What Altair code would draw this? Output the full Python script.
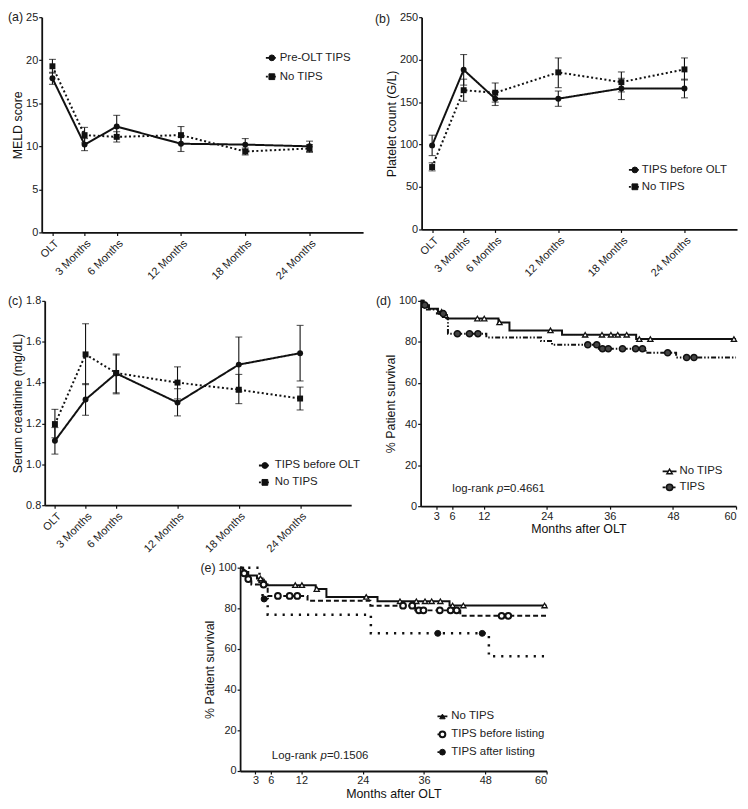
import altair as alt
import pandas as pd

FONT = "Liberation Sans"
INK = "#111111"
LAB = "#222222"

# ---------------- data ----------------
visit_months = [0, 3, 6, 12, 18, 24]
visit_labels = ["OLT", "3 Months", "6 Months", "12 Months", "18 Months", "24 Months"]

# (a) MELD score
meld_groups = ["Pre-OLT TIPS", "No TIPS"]
meld_tips = [17.9, 10.2, 12.3, 10.3, 10.2, 10.0]
meld_tips_lo = [17.2, 9.5, 11.0, 9.4, 9.6, 9.4]
meld_tips_hi = [18.6, 10.9, 13.6, 11.1, 10.9, 10.6]
meld_no = [19.3, 11.3, 11.1, 11.3, 9.4, 9.75]
meld_no_lo = [18.5, 10.4, 10.5, 10.3, 9.0, 9.3]
meld_no_hi = [20.1, 12.2, 11.7, 12.3, 9.8, 10.2]

# (b) platelet count
plt_groups = ["TIPS before OLT", "No TIPS"]
plt_tips = [99, 188, 154, 154, 166, 166]
plt_tips_lo = [87, 170, 146, 145, 153, 155]
plt_tips_hi = [111, 206, 162, 163, 178, 177]
plt_no = [73.5, 164, 161, 185, 173.5, 188.5]
plt_no_lo = [69, 151, 150, 167, 162, 176]
plt_no_hi = [78.5, 177, 172.5, 202, 185.5, 202]

# (c) serum creatinine
cre_groups = ["TIPS before OLT", "No TIPS"]
cre_tips = [1.115, 1.317, 1.445, 1.302, 1.488, 1.544]
cre_tips_lo = [1.05, 1.24, 1.345, 1.237, 1.355, 1.408]
cre_tips_hi = [1.18, 1.395, 1.535, 1.37, 1.623, 1.68]
cre_no = [1.197, 1.538, 1.447, 1.400, 1.365, 1.322]
cre_no_lo = [1.13, 1.39, 1.35, 1.32, 1.297, 1.266]
cre_no_hi = [1.269, 1.688, 1.54, 1.477, 1.44, 1.378]

# (d)/(e) Kaplan-Meier, No TIPS
km_no_t = [0, 0.6, 1.6, 3.3, 4.4, 5.0, 14.8, 16.9, 26.9, 41.0, 60]
km_no_s = [100, 97.9, 96.2, 94.7, 93.1, 91.4, 89.5, 85.6, 83.5, 81.4, 81.4]
km_no_cens_t = [0.9, 4.0, 4.7, 10.8, 12.1, 15.0, 24.7, 31.3, 34.5, 36.2, 37.5, 39.2, 41.6, 43.7, 59.6]
km_no_cens_s = [97.9, 94.7, 93.1, 91.4, 91.4, 89.5, 85.6, 83.5, 83.5, 83.5, 83.5, 83.5, 81.4, 81.4, 81.4]

# (d) TIPS
km_tips_t = [0, 0.4, 1.2, 3.1, 4.6, 5.2, 12.5, 22.9, 25.0, 33.9, 42.8, 48.6, 60]
km_tips_s = [100, 97.9, 95.8, 93.8, 91.7, 84.0, 82.2, 80.4, 78.6, 76.7, 74.7, 72.4, 72.4]
km_tips_cens_t = [0.8, 4.3, 7.0, 9.3, 10.9, 31.8, 33.5, 34.6, 35.7, 38.4, 40.9, 42.2, 47.0, 50.6, 52.0]
km_tips_cens_s = [97.9, 93.8, 84.0, 84.0, 84.0, 78.6, 78.6, 76.7, 76.7, 76.7, 76.7, 76.7, 74.7, 72.4, 72.4]

# (e) TIPS before listing
km_before_t = [0, 0.5, 1.3, 2.2, 5.4, 13.2, 25.5, 34.3, 43.1, 60]
km_before_s = [100, 97.2, 94.4, 91.7, 86.1, 83.7, 81.3, 79.0, 76.3, 76.3]
km_before_cens_t = [0.8, 1.6, 4.6, 7.4, 9.7, 11.2, 31.9, 33.7, 35.0, 35.9, 39.1, 41.2, 42.4, 51.2, 52.5]
km_before_cens_s = [97.2, 94.4, 91.7, 86.1, 86.1, 86.1, 81.3, 81.3, 79.0, 79.0, 79.0, 79.0, 79.0, 76.3, 76.3]

# (e) TIPS after listing
km_after_t = [0, 3.8, 4.4, 5.4, 25.6, 48.7, 60]
km_after_s = [100, 92.3, 84.6, 76.9, 67.7, 56.4, 56.4]
km_after_cens_t = [4.7, 38.7, 47.4]
km_after_cens_s = [84.6, 67.7, 67.7]

km_ticks = [3, 6, 12, 24, 36, 48, 60]
km_yticks = [0, 20, 40, 60, 80, 100]

one = pd.DataFrame({"k": [0]})

# ---------------- helpers ----------------
LABEL_EXPR = "''"
for m, lab in reversed(list(zip(visit_months, visit_labels))):
    LABEL_EXPR = f"datum.value == {m} ? '{lab}' : ({LABEL_EXPR})"


def visits_df(groups, means, los, his):
    rows = []
    for g, ms, ls, hs in zip(groups, means, los, his):
        for t, a, b, c in zip(visit_months, ms, ls, hs):
            rows.append({"month": t, "group": g, "mean": a, "lo": b, "hi": c})
    return pd.DataFrame(rows)


def text_at(x, y, s, size=11.5, style="normal", align="left"):
    return alt.Chart(one).mark_text(
        align=align, baseline="middle", font=FONT, fontSize=size, fontStyle=style,
        color=LAB, text=s
    ).encode(x=alt.value(x), y=alt.value(y))


def legend_item(mx, y, label, shape, dash, fill=INK, stroke=INK, sw=1.0,
                size=34, left=6, right=4, tx=None):
    line = alt.Chart(one).mark_rule(color=INK, strokeWidth=1.8, strokeDash=dash).encode(
        x=alt.value(mx - left), x2=alt.value(mx + right), y=alt.value(y))
    pt = alt.Chart(one).mark_point(shape=shape, filled=True, fill=fill, stroke=stroke,
                                   strokeWidth=sw, size=size, opacity=1).encode(
        x=alt.value(mx), y=alt.value(y))
    txt = text_at(tx if tx is not None else mx + 8, y, label)
    return [line, pt, txt]


def spacer(w, h):
    return alt.Chart(one).mark_point(opacity=0, size=1).encode(
        x=alt.value(0), y=alt.value(0)).properties(width=w, height=h)


def visit_panel(df, groups, ytitle, ydomain, yvalues, yfmt, w, h, tag, tagpos, legend):
    xenc = alt.X("month:Q", scale=alt.Scale(domain=[-1, 29], nice=False, zero=False),
                 axis=alt.Axis(values=visit_months, labelExpr=LABEL_EXPR, labelAngle=-45,
                               labelOverlap=False, title=None, labelPadding=2))
    yaxis = alt.Axis(values=yvalues, title=ytitle, format=yfmt)
    yscale = alt.Scale(domain=ydomain, nice=False, zero=False)
    dash = alt.StrokeDash("group:N", scale=alt.Scale(domain=groups, range=[[1, 0], [2, 2.5]]),
                          legend=None)
    shape = alt.Shape("group:N", scale=alt.Scale(domain=groups, range=["circle", "square"]),
                      legend=None)
    base = alt.Chart(df)
    lines = base.mark_line(color=INK, strokeWidth=2).encode(
        x=xenc, y=alt.Y("mean:Q", scale=yscale, axis=yaxis), strokeDash=dash)
    rules = base.mark_rule(color=INK, strokeWidth=1.1).encode(
        x=xenc, y=alt.Y("lo:Q", scale=yscale, axis=yaxis), y2="hi:Q")
    cap_lo = base.mark_tick(color=INK, orient="horizontal", size=7, thickness=1.1).encode(
        x=xenc, y=alt.Y("lo:Q", scale=yscale, axis=yaxis))
    cap_hi = base.mark_tick(color=INK, orient="horizontal", size=7, thickness=1.1).encode(
        x=xenc, y=alt.Y("hi:Q", scale=yscale, axis=yaxis))
    pts = base.mark_point(filled=True, color=INK, opacity=1, size=36).encode(
        x=xenc, y=alt.Y("mean:Q", scale=yscale, axis=yaxis), shape=shape)
    layers = [lines, rules, cap_lo, cap_hi, pts]
    layers.append(text_at(tagpos[0], tagpos[1], tag, size=12.5))
    (mx, tx, y1, y2) = legend
    layers += legend_item(mx, y1, groups[0], "circle", [1, 0], tx=tx)
    layers += legend_item(mx, y2, groups[1], "square", [2, 2], tx=tx)
    return alt.layer(*layers).properties(width=w, height=h)


def km_panel(curves, censors, w, h, tag, tagpos, legend_layers, logrank):
    xenc = alt.X("t:Q", scale=alt.Scale(domain=[0, 60], nice=False, zero=False),
                 axis=alt.Axis(values=km_ticks, title="Months after OLT", labelAngle=0,
                               titlePadding=2))
    yenc = alt.Y("s:Q", scale=alt.Scale(domain=[0, 100], nice=False),
                 axis=alt.Axis(values=km_yticks, title="% Patient survival"))
    layers = []
    for t, s, dash, sw in curves:
        df = pd.DataFrame({"t": t, "s": s})
        layers.append(alt.Chart(df).mark_line(interpolate="step-after", color=INK,
                                              strokeWidth=sw, strokeDash=dash).encode(x=xenc, y=yenc))
    for t, s, shape, fill, swidth, size in censors:
        df = pd.DataFrame({"t": t, "s": s})
        layers.append(alt.Chart(df).mark_point(shape=shape, filled=True, fill=fill, stroke=INK,
                                               strokeWidth=swidth, size=size, opacity=1)
                      .encode(x=xenc, y=yenc))
    layers.append(text_at(tagpos[0], tagpos[1], tag, size=12.5))
    layers += legend_layers
    lx, ly, word, pval, pdx = logrank
    layers.append(text_at(lx, ly, word, align="left"))
    layers.append(text_at(lx + pdx, ly, "p", style="italic"))
    layers.append(text_at(lx + pdx + 6.5, ly, pval))
    return alt.layer(*layers).properties(width=w, height=h)


# ---------------- panels ----------------
pa = visit_panel(visits_df(meld_groups, [meld_tips, meld_no], [meld_tips_lo, meld_no_lo],
                           [meld_tips_hi, meld_no_hi]),
                 meld_groups, "MELD score", [0, 25], [0, 5, 10, 15, 20, 25], "d",
                 324, 217, "(a)", (-34, 0), (232, 240, 41, 60))

pb = visit_panel(visits_df(plt_groups, [plt_tips, plt_no], [plt_tips_lo, plt_no_lo],
                           [plt_tips_hi, plt_no_hi]),
                 plt_groups, "Platelet count (G/L)", [0, 250], [0, 50, 100, 150, 200, 250], "d",
                 318, 214, "(b)", (-47, 2), (215, 222, 154, 171))

pc = visit_panel(visits_df(cre_groups, [cre_tips, cre_no], [cre_tips_lo, cre_no_lo],
                           [cre_tips_hi, cre_no_hi]),
                 cre_groups, "Serum creatinine (mg/dL)", [0.8, 1.8],
                 [0.8, 1.0, 1.2, 1.4, 1.6, 1.8], ".1f",
                 309, 206, "(c)", (-37, 0), (222, 232, 166, 183))

d_legend = (legend_item(251, 172, "No TIPS", "triangle-up", [1, 0], fill="white", sw=1.4,
                        size=30, left=7, right=7, tx=261)
            + legend_item(251, 188, "TIPS", "circle", [3, 2], fill="#444444", sw=1.6,
                          size=40, left=7, right=7, tx=261))
pd_ = km_panel(
    [(km_no_t, km_no_s, [1, 0], 2), (km_tips_t, km_tips_s, [5, 2, 1.5, 2, 1.5, 2], 2)],
    [(km_no_cens_t, km_no_cens_s, "triangle-up", "white", 1.3, 28),
     (km_tips_cens_t, km_tips_cens_s, "circle", "#444444", 1.5, 38)],
    318, 207, "(d)", (-45, 0), d_legend, (32, 190, "log-rank", "=0.4661", 45))

e_legend = (legend_item(204, 150, "No TIPS", "triangle-up", [1, 0], fill=INK, sw=1.0,
                        size=30, left=5, right=5, tx=213)
            + legend_item(204, 168, "TIPS before listing", "circle", [3, 2], fill="white",
                          sw=2, size=34, left=5, right=5, tx=213)
            + legend_item(204, 186, "TIPS after listing", "circle", [2, 3], fill=INK, sw=1.0,
                          size=34, left=5, right=5, tx=213))
pe = km_panel(
    [(km_no_t, km_no_s, [1, 0], 2), (km_before_t, km_before_s, [5, 3], 2),
     (km_after_t, km_after_s, [2.2, 6], 2.5)],
    [(km_no_cens_t, km_no_cens_s, "triangle-up", "white", 1.3, 28),
     (km_before_cens_t, km_before_cens_s, "circle", "white", 2, 34),
     (km_after_cens_t, km_after_cens_s, "circle", INK, 1, 36)],
    309, 205, "(e)", (-40, 0), e_legend, (32, 190, "Log-rank", "=0.1506", 49))

row1 = alt.hconcat(pa, spacer(59, 1), pb, spacing=0, bounds="flush")
row2 = alt.hconcat(spacer(3, 1), pc, spacer(70, 1), pd_, spacing=0, bounds="flush")
row3 = alt.hconcat(spacer(200, 1), pe, spacing=0, bounds="flush")

chart = alt.vconcat(row1, spacer(1, 12), row2, spacer(1, 6), row3,
                    spacing=0).properties(padding=0)

chart = chart.configure_view(stroke=None).configure_axis(
    grid=False, domainColor=INK, domainWidth=1.8, tickColor=INK, tickWidth=1.2, tickSize=3,
    labelFont=FONT, labelFontSize=11, labelColor=LAB, labelPadding=1,
    titleFont=FONT, titleFontSize=12.5, titleFontWeight="normal", titleColor=INK,
    titlePadding=1
)

chart.save("out.html", embed_options={"renderer": "svg", "actions": False})
